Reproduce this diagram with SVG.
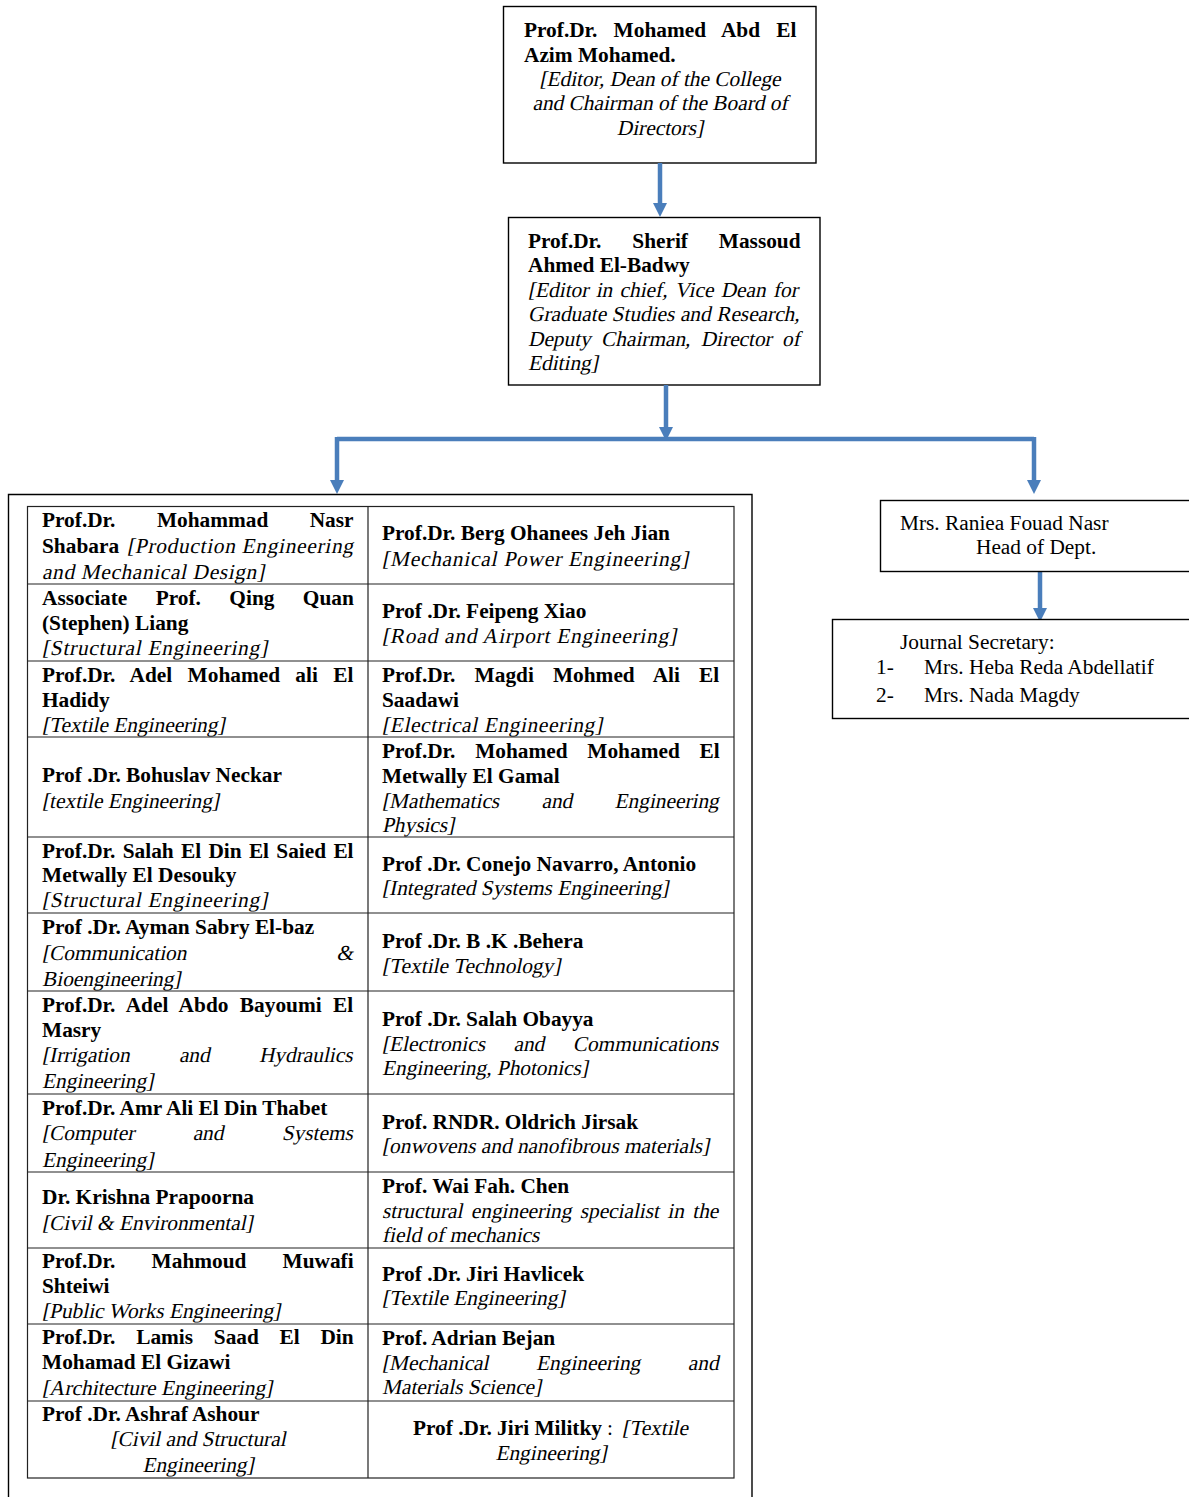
<svg xmlns="http://www.w3.org/2000/svg" width="1189" height="1497" viewBox="0 0 1189 1497">
<style>
text{font-family:"Liberation Serif","Times New Roman",serif;font-size:21.33px;fill:#000}
.b{font-weight:bold}
.m{text-anchor:middle}
.e{text-anchor:end}
.box{fill:#fff;stroke:#000;stroke-width:1.4}
.tl{stroke:#222;stroke-width:1.2;fill:none}
.con{stroke:#4A7EBB;stroke-width:4.5;fill:none}
</style>
<defs>
<marker id="ah" viewBox="0 0 14 14" refX="4" refY="7" markerWidth="14" markerHeight="14" markerUnits="userSpaceOnUse" orient="auto">
<path d="M0,0 L14,7 L0,14 z" fill="#4A7EBB"/>
</marker>
</defs>
<rect width="1189" height="1497" fill="#fff"/>

<g id="node-dean">
<rect class="box" x="503.5" y="6.5" width="312.5" height="156.5"/>
<text class="b" x="524" y="37" style="word-spacing:10.8px">Prof.Dr. Mohamed Abd El</text>
<text class="b" x="524" y="62">Azim Mohamed.</text>
<text class="m" transform="translate(660 86) skewX(-12)">[Editor, Dean of the College</text>
<text class="m" transform="translate(660 110) skewX(-12)">and Chairman of the Board of</text>
<text class="m" transform="translate(660 135) skewX(-12)">Directors]</text>
</g>

<g id="node-editor">
<rect class="box" x="508.5" y="217.5" width="311.5" height="167.5"/>
<text class="b" x="528" y="248" style="word-spacing:25.5px">Prof.Dr. Sherif Massoud</text>
<text class="b" x="528" y="272">Ahmed El-Badwy</text>
<text transform="translate(528 297) skewX(-12)" style="word-spacing:2px">[Editor in chief, Vice Dean for</text>
<text transform="translate(528 321) skewX(-12)" style="word-spacing:0.2px">Graduate Studies and Research,</text>
<text transform="translate(528 346) skewX(-12)" style="word-spacing:5px">Deputy Chairman, Director of</text>
<text transform="translate(528 370) skewX(-12)">Editing]</text>
</g>

<g id="connectors">
<path class="con" d="M660,163 V207" marker-end="url(#ah)"/>
<path class="con" d="M666,385 V431" marker-end="url(#ah)"/>
<path class="con" d="M337,439 H1034"/>
<path class="con" d="M337,437 V484" marker-end="url(#ah)"/>
<path class="con" d="M1034,437 V484" marker-end="url(#ah)"/>
<path class="con" d="M1040,566 V612" marker-end="url(#ah)"/>
</g>

<g id="node-board">
<path class="box" d="M8.5,1510 V494.5 H752 V1510"/>
<rect class="tl" x="27.5" y="506.5" width="706.5" height="971.5"/>
<path class="tl" d="M368,506 V1478 M27,584 H734 M27,661 H734 M27,737 H734 M27,837 H734 M27,913 H734 M27,991 H734 M27,1094 H734 M27,1172 H734 M27,1248 H734 M27,1324 H734 M27,1401 H734"/>

<!-- row 1 -->
<text class="b" x="42" y="527" style="word-spacing:36.1px">Prof.Dr. Mohammad Nasr</text>
<text class="b" x="42" y="553">Shabara</text>
<text class="e" transform="translate(353 553) skewX(-12)" textLength="226" lengthAdjust="spacing">[Production Engineering</text>
<text transform="translate(42 579) skewX(-12)" textLength="222" lengthAdjust="spacing">and Mechanical Design]</text>
<text class="b" x="382" y="540">Prof.Dr. Berg Ohanees Jeh Jian</text>
<text transform="translate(382 566) skewX(-12)" textLength="306" lengthAdjust="spacing">[Mechanical Power Engineering]</text>

<!-- row 2 -->
<text class="b" x="42" y="605" style="word-spacing:23.1px">Associate Prof. Qing Quan</text>
<text class="b" x="42" y="630">(Stephen) Liang</text>
<text transform="translate(42 655) skewX(-12)" textLength="225" lengthAdjust="spacing">[Structural Engineering]</text>
<text class="b" x="382" y="618">Prof .Dr. Feipeng Xiao</text>
<text transform="translate(382 643) skewX(-12)" textLength="294" lengthAdjust="spacing">[Road and Airport Engineering]</text>

<!-- row 3 -->
<text class="b" x="42" y="682" style="word-spacing:10px">Prof.Dr. Adel Mohamed ali El</text>
<text class="b" x="42" y="707">Hadidy</text>
<text transform="translate(42 732) skewX(-12)">[Textile Engineering]</text>
<text class="b" x="382" y="682" style="word-spacing:13.8px">Prof.Dr. Magdi Mohmed Ali El</text>
<text class="b" x="382" y="707">Saadawi</text>
<text transform="translate(382 732) skewX(-12)" textLength="220" lengthAdjust="spacing">[Electrical Engineering]</text>

<!-- row 4 -->
<text class="b" x="42" y="782">Prof .Dr. Bohuslav Neckar</text>
<text transform="translate(42 808) skewX(-12)">[textile Engineering]</text>
<text class="b" x="382" y="758" style="word-spacing:14.4px">Prof.Dr. Mohamed Mohamed El</text>
<text class="b" x="382" y="783">Metwally El Gamal</text>
<text transform="translate(382 808) skewX(-12)" style="word-spacing:37px">[Mathematics and Engineering</text>
<text transform="translate(382 832) skewX(-12)">Physics]</text>

<!-- row 5 -->
<text class="b" x="42" y="858" style="word-spacing:1.95px">Prof.Dr. Salah El Din El Saied El</text>
<text class="b" x="42" y="882">Metwally El Desouky</text>
<text transform="translate(42 907) skewX(-12)" textLength="225" lengthAdjust="spacing">[Structural Engineering]</text>
<text class="b" x="382" y="871">Prof .Dr. Conejo Navarro, Antonio</text>
<text transform="translate(382 895) skewX(-12)">[Integrated Systems Engineering]</text>

<!-- row 6 -->
<text class="b" x="42" y="934">Prof .Dr. Ayman Sabry El-baz</text>
<text transform="translate(42 960) skewX(-12)">[Communication</text>
<text class="e" transform="translate(353 960) skewX(-12)">&amp;</text>
<text transform="translate(42 986) skewX(-12)">Bioengineering]</text>
<text class="b" x="382" y="948">Prof .Dr. B .K .Behera</text>
<text transform="translate(382 973) skewX(-12)">[Textile Technology]</text>

<!-- row 7 -->
<text class="b" x="42" y="1012" style="word-spacing:6.1px">Prof.Dr. Adel Abdo Bayoumi El</text>
<text class="b" x="42" y="1037">Masry</text>
<text transform="translate(42 1062) skewX(-12)" style="word-spacing:44px">[Irrigation and Hydraulics</text>
<text transform="translate(42 1088) skewX(-12)">Engineering]</text>
<text class="b" x="382" y="1026">Prof .Dr. Salah Obayya</text>
<text transform="translate(382 1051) skewX(-12)" style="word-spacing:23.2px">[Electronics and Communications</text>
<text transform="translate(382 1075) skewX(-12)">Engineering, Photonics]</text>

<!-- row 8 -->
<text class="b" x="42" y="1115">Prof.Dr. Amr Ali El Din Thabet</text>
<text transform="translate(42 1140) skewX(-12)" style="word-spacing:53px">[Computer and Systems</text>
<text transform="translate(42 1167) skewX(-12)">Engineering]</text>
<text class="b" x="382" y="1129">Prof. RNDR. Oldrich Jirsak</text>
<text transform="translate(382 1153) skewX(-12)">[onwovens and nanofibrous materials]</text>

<!-- row 9 -->
<text class="b" x="42" y="1204">Dr. Krishna Prapoorna</text>
<text transform="translate(42 1230) skewX(-12)">[Civil &amp; Environmental]</text>
<text class="b" x="382" y="1193">Prof. Wai Fah. Chen</text>
<text transform="translate(382 1218) skewX(-12)" style="word-spacing:3px">structural engineering specialist in the</text>
<text transform="translate(382 1242) skewX(-12)">field of mechanics</text>

<!-- row 10 -->
<text class="b" x="42" y="1268" style="word-spacing:30.8px">Prof.Dr. Mahmoud Muwafi</text>
<text class="b" x="42" y="1293">Shteiwi</text>
<text transform="translate(42 1318) skewX(-12)">[Public Works Engineering]</text>
<text class="b" x="382" y="1281">Prof .Dr. Jiri Havlicek</text>
<text transform="translate(382 1305) skewX(-12)">[Textile Engineering]</text>

<!-- row 11 -->
<text class="b" x="42" y="1344" style="word-spacing:15.4px">Prof.Dr. Lamis Saad El Din</text>
<text class="b" x="42" y="1369">Mohamad El Gizawi</text>
<text transform="translate(42 1395) skewX(-12)">[Architecture Engineering]</text>
<text class="b" x="382" y="1345">Prof. Adrian Bejan</text>
<text transform="translate(382 1370) skewX(-12)" style="word-spacing:42.3px">[Mechanical Engineering and</text>
<text transform="translate(382 1394) skewX(-12)">Materials Science]</text>

<!-- row 12 -->
<text class="b" x="42" y="1421">Prof .Dr. Ashraf Ashour</text>
<text class="m" transform="translate(198 1446) skewX(-12)">[Civil and Structural</text>
<text class="m" transform="translate(198 1472) skewX(-12)">Engineering]</text>
<text class="b" x="413" y="1435">Prof .Dr. Jiri Militky</text>
<text x="607" y="1435">:</text>
<text class="e" transform="translate(688 1435) skewX(-12)">[Textile</text>
<text class="m" transform="translate(551 1460) skewX(-12)">Engineering]</text>
</g>

<g id="node-head">
<rect class="box" x="880.5" y="500.5" width="312" height="71"/>
<text x="900" y="530">Mrs. Raniea Fouad Nasr</text>
<text x="976" y="554">Head of Dept.</text>
</g>

<g id="node-secretary">
<rect class="box" x="832.5" y="619.5" width="360" height="99"/>
<text x="900" y="649">Journal Secretary:</text>
<text x="876" y="674">1-</text>
<text x="924" y="674">Mrs. Heba Reda Abdellatif</text>
<text x="876" y="702">2-</text>
<text x="924" y="702">Mrs. Nada Magdy</text>
</g>
</svg>
